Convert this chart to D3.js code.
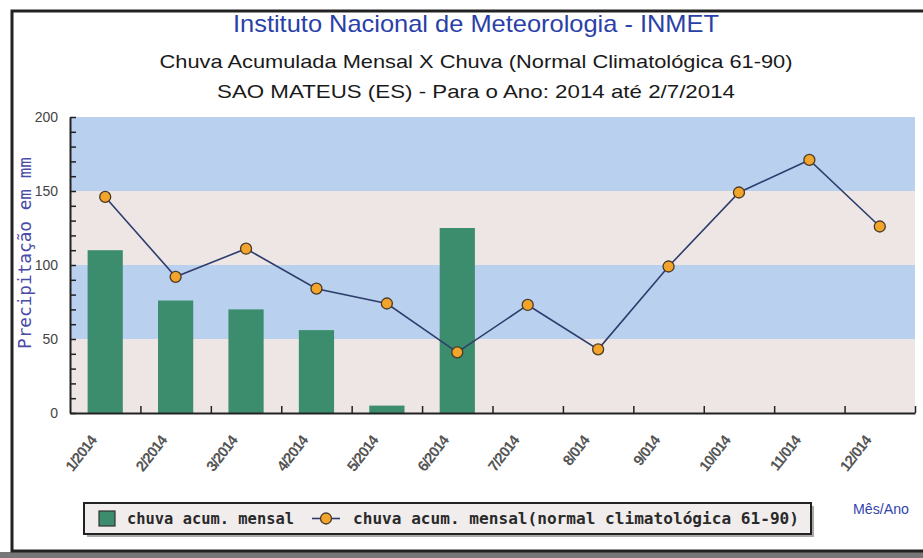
<!DOCTYPE html>
<html>
<head>
<meta charset="utf-8">
<script src="https://cdn.jsdelivr.net/npm/d3@7"></script>
<style>
  body { margin: 0; background: #fff; }
  svg { display: block; }
</style>
</head>
<body>
<div id="chart"></div>
<script>
// --- Chuva acumulada mensal x normal climatologica ---
const months = ["1/2014", "2/2014", "3/2014", "4/2014", "5/2014", "6/2014",
    "7/2014", "8/014", "9/014", "10/014", "11/014", "12/014"];
const chuvaMensal = [110, 76, 70, 56, 5, 125, null, null, null, null, null, null];
const chuvaNormal = [146, 92, 111, 84, 74, 41, 73, 43, 99, 149, 171, 126];
const yTicks = d3.range(0, 201, 10);
const bandas = [[150, 200, "#b9d0ef"], [100, 150, "#ede6e5"], [50, 100, "#b9d0ef"], [0, 50, "#ede6e5"]];

const W = 923, H = 558;
const plot = { left: 70, right: 915, top: 117, bottom: 413 };
const sans = "'Liberation Sans', Arial, sans-serif";

const svg = d3.select("#chart")
    .append("svg")
    .attr("width", W)
    .attr("height", H);

// frame
svg.append("rect")
    .attr("x", 0).attr("y", 552).attr("width", W).attr("height", 6)
    .attr("fill", "#777");
svg.append("rect")
    .attr("x", 12).attr("y", 11).attr("width", 940).attr("height", 540)
    .attr("fill", "#fff")
    .attr("stroke", "#222")
    .attr("stroke-width", 3);

// titles
const titles = [
    { t: "Instituto Nacional de Meteorologia - INMET", y: 32, size: 24, len: 486, color: "#2b3fa8" },
    { t: "Chuva Acumulada Mensal X Chuva (Normal Climatológica 61-90)", y: 68, size: 19, len: 633, color: "#1a1a1a" },
    { t: "SAO MATEUS (ES) - Para o Ano: 2014 até 2/7/2014", y: 98, size: 19, len: 518, color: "#1a1a1a" }
];
svg.selectAll(".title")
    .data(titles)
    .enter()
    .append("text")
    .attr("class", "title")
    .attr("x", 476)
    .attr("y", d => d.y)
    .attr("text-anchor", "middle")
    .attr("font-family", sans)
    .attr("font-size", d => d.size)
    .attr("fill", d => d.color)
    .attr("textLength", d => d.len)
    .attr("lengthAdjust", "spacingAndGlyphs")
    .text(d => d.t);

const x = d3.scaleBand()
    .domain(months)
    .range([plot.left, plot.right])
    .paddingInner(0.5)
    .paddingOuter(0.25);
const xl = d3.scaleLinear().domain([0, 12]).range([plot.left, plot.right]);
const y = d3.scaleLinear().domain([0, 200]).range([plot.bottom, plot.top]);

// background bands
svg.selectAll(".banda")
    .data(bandas)
    .enter()
    .append("rect")
    .attr("x", plot.left)
    .attr("width", plot.right - plot.left)
    .attr("y", d => y(d[1]))
    .attr("height", d => y(d[0]) - y(d[1]))
    .attr("fill", d => d[2]);

// bars
svg.selectAll(".bar")
    .data(months.map((m, i) => ({ m, v: chuvaMensal[i] })).filter(d => d.v != null))
    .enter()
    .append("rect")
    .attr("class", "bar")
    .attr("x", d => x(d.m))
    .attr("width", x.bandwidth())
    .attr("y", d => y(d.v))
    .attr("height", d => y(0) - y(d.v))
    .attr("fill", "#3b8d6d");

// normal line
const pts = months.map((m, i) => ({ m, v: chuvaNormal[i] }));
svg.append("path")
    .datum(pts)
    .attr("fill", "none")
    .attr("stroke", "#2e3d6b")
    .attr("stroke-width", 1.6)
    .attr("d", d3.line()
        .x(d => x(d.m) + x.bandwidth() / 2)
        .y(d => y(d.v)));

svg.selectAll(".dot")
    .data(pts)
    .enter()
    .append("circle")
    .attr("class", "dot")
    .attr("r", 5.5)
    .attr("cx", d => x(d.m) + x.bandwidth() / 2)
    .attr("cy", d => y(d.v))
    .attr("fill", "#f2a52a")
    .attr("stroke", "#4a3a2a")
    .attr("stroke-width", 1.3);

// axes
const yAxis = svg.append("g")
    .attr("transform", `translate(${plot.left},0)`)
    .call(d3.axisLeft(y)
        .tickValues(yTicks)
        .tickSizeInner(-6)
        .tickSizeOuter(0)
        .tickPadding(12)
        .tickFormat(d => d % 50 === 0 ? d : ""));
yAxis.select(".domain").attr("stroke", "#222").attr("stroke-width", 2);
yAxis.selectAll(".tick line").attr("stroke", "#222").attr("stroke-width", 1.5);
yAxis.selectAll(".tick text")
    .attr("font-family", sans)
    .attr("font-size", 14)
    .attr("fill", "#444");

const xAxis = svg.append("g")
    .attr("transform", `translate(0,${plot.bottom})`)
    .call(d3.axisBottom(xl)
        .tickValues(d3.range(1, 13))
        .tickSizeInner(-7)
        .tickSizeOuter(0)
        .tickFormat(""));
xAxis.select(".domain").attr("stroke", "#222").attr("stroke-width", 2);
xAxis.selectAll(".tick line").attr("stroke", "#222").attr("stroke-width", 1.5);

svg.selectAll(".xlab")
    .data(months)
    .enter()
    .append("text")
    .attr("class", "xlab")
    .attr("text-anchor", "end")
    .attr("transform", d => `translate(${x(d) + x.bandwidth() / 2 - 8},${plot.bottom + 28}) rotate(-52)`)
    .attr("font-family", sans)
    .attr("font-size", 15)
    .attr("font-weight", "bold")
    .attr("letter-spacing", -1)
    .attr("fill", "#555")
    .text(d => d);

// axis titles
svg.append("text")
    .attr("transform", "translate(31,253) rotate(-90)")
    .attr("text-anchor", "middle")
    .attr("font-family", "'DejaVu Sans Mono', monospace")
    .attr("font-size", 17)
    .attr("fill", "#4a4aa8")
    .attr("textLength", 192)
    .attr("lengthAdjust", "spacingAndGlyphs")
    .text("Precipitação em mm");

svg.append("text")
    .attr("x", 881)
    .attr("y", 514)
    .attr("text-anchor", "middle")
    .attr("font-family", sans)
    .attr("font-size", 14)
    .attr("fill", "#3344aa")
    .attr("textLength", 56)
    .attr("lengthAdjust", "spacingAndGlyphs")
    .text("Mês/Ano");

// legend
const leg = svg.append("g");
leg.append("rect")
    .attr("x", 87).attr("y", 506).attr("width", 727).attr("height", 31)
    .attr("fill", "#aaa");
leg.append("rect")
    .attr("x", 84).attr("y", 503).attr("width", 727).attr("height", 31)
    .attr("fill", "#f1eded")
    .attr("stroke", "#222")
    .attr("stroke-width", 2);
leg.append("rect")
    .attr("x", 99).attr("y", 511).attr("width", 16).attr("height", 15)
    .attr("fill", "#3b8d6d")
    .attr("stroke", "#333")
    .attr("stroke-width", 1.2);
leg.append("line")
    .attr("x1", 312).attr("x2", 340).attr("y1", 518.5).attr("y2", 518.5)
    .attr("stroke", "#2e3d6b").attr("stroke-width", 1.6);
leg.append("circle")
    .attr("cx", 326).attr("cy", 518.5).attr("r", 5.5)
    .attr("fill", "#f2a52a").attr("stroke", "#4a3a2a").attr("stroke-width", 1.3);
const legItems = [
    { t: "chuva acum. mensal", x: 127, len: 167 },
    { t: "chuva acum. mensal(normal climatológica 61-90)", x: 353, len: 446 }
];
leg.selectAll(".legt")
    .data(legItems)
    .enter()
    .append("text")
    .attr("x", d => d.x)
    .attr("y", 524)
    .attr("font-family", "'DejaVu Sans Mono', monospace")
    .attr("font-size", 15)
    .attr("font-weight", "bold")
    .attr("fill", "#2a2a2a")
    .attr("textLength", d => d.len)
    .attr("lengthAdjust", "spacingAndGlyphs")
    .text(d => d.t);
</script>
</body>
</html>
